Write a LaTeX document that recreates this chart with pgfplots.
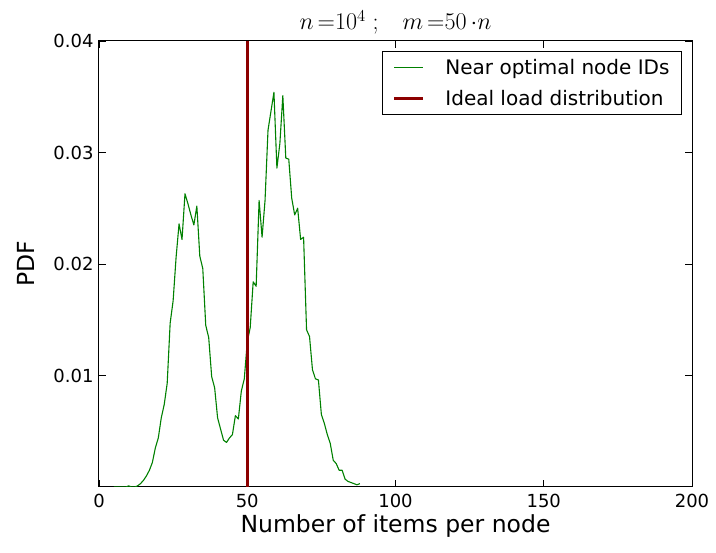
\documentclass[border=0pt]{standalone}
\usepackage{pgfplots}
\pgfplotsset{compat=1.18}
\usepackage{fontspec}
\setmainfont{DejaVu Sans}
\definecolor{loadgreen}{rgb}{0,0.5,0}
\definecolor{idealred}{rgb}{0.55,0,0}

% Empirical load per node (PDF over number of items)
\pgfplotstableread{
x y
5 0
6 0
7 0
8 0
9 0
10 0.0001
11 0
12 0
13 0.0001
14 0.0003
15 0.0006
16 0.0010
17 0.0015
18 0.0022
19 0.0035
20 0.0044
21 0.0062
22 0.0074
23 0.0093
24 0.0147
25 0.0167
26 0.0206
27 0.0236
28 0.0222
29 0.0263
30 0.0254
31 0.0244
32 0.0235
33 0.0252
34 0.0207
35 0.0196
36 0.0145
37 0.0134
38 0.0099
39 0.0089
40 0.0062
41 0.0052
42 0.0042
43 0.0040
44 0.0044
45 0.0047
46 0.0064
47 0.0061
48 0.0086
49 0.0097
50 0.0130
51 0.0143
52 0.0184
53 0.0180
54 0.0257
55 0.0224
56 0.0257
57 0.0320
58 0.0337
59 0.0354
60 0.0286
61 0.0308
62 0.0351
63 0.0295
64 0.0294
65 0.0259
66 0.0244
67 0.0250
68 0.0222
69 0.0224
70 0.0141
71 0.0135
72 0.0105
73 0.0097
74 0.0096
75 0.0065
76 0.0057
77 0.0047
78 0.0039
79 0.0024
80 0.0021
81 0.0015
82 0.0015
83 0.0007
84 0.0005
85 0.0004
86 0.0003
87 0.0002
88 0.0003
}\loaddata

\begin{document}
\begin{tikzpicture}
\begin{axis}[
  scale only axis,
  width=593pt, height=446pt,
  xmin=0, xmax=200, ymin=0, ymax=0.04,
  xtick={0,50,100,150,200},
  ytick={0.01,0.02,0.03,0.04},
  scaled y ticks=false,
  /pgf/number format/assume math mode=true,
  yticklabel style={/pgf/number format/fixed, /pgf/number format/fixed zerofill, /pgf/number format/precision=2, xshift=-2pt},
  tick label style={font=\fontsize{18}{21}\selectfont},
  xticklabel style={yshift=-4pt},
  label style={font=\fontsize{23.5}{28}\selectfont},
  xlabel={Number of items per node},
  ylabel={PDF},
  ylabel shift=12pt,
  title={\scalebox{1.16}{$n\,{=}10^{4}\;;\;\;\; m\,{=}50\,{\cdot}n$}},
  title style={font=\fontsize{20.74}{25}\selectfont, yshift=-3pt},
  axis line style={line width=1pt},
  major tick length=7pt,
  tick style={black, line width=0.8pt},
  tick align=inside,
  legend image code/.code={\draw[#1] (0pt,0pt) -- (29pt,0pt);},
  legend cell align=left,
  legend style={
    at={(1,1)}, anchor=north east, xshift=-10pt, yshift=-10pt,
    font=\fontsize{20}{24}\selectfont,
    draw=black, line width=1pt,
    inner xsep=10pt, inner ysep=6pt, row sep=10pt,
    /tikz/every odd column/.append style={column sep=19pt},
  },
]
\addplot[loadgreen, line width=1.1pt, line join=round] table[x=x, y=y] {\loaddata};
\addlegendentry{Near optimal node IDs}
\addplot[idealred, line width=2.6pt] coordinates {(50,0) (50,0.04)};
\addlegendentry{Ideal load distribution}
\end{axis}
\pgfresetboundingbox
\path ([xshift=-99pt,yshift=-66pt]current axis.south west) rectangle ([xshift=24pt,yshift=41pt]current axis.north east);
\end{tikzpicture}
\end{document}
